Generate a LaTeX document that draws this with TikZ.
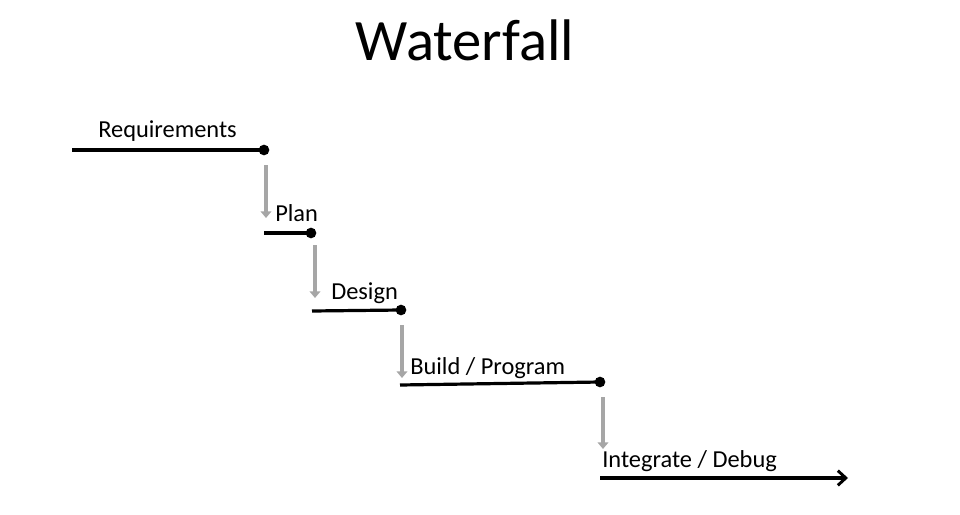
\documentclass[tikz,border=0pt]{standalone}
\usepackage{fontspec}
\setmainfont{Carlito}
\usetikzlibrary{arrows.meta}
\begin{document}
\begin{tikzpicture}[x=0.75pt,y=-0.75pt,
  stage/.style={line width=2.4pt,black},
  enddot/.style={circle,fill=black,inner sep=0pt,minimum size=8pt},
  drop/.style={line width=3pt,color=black!35,-{Triangle[width=8pt,length=5pt]}},
  lbl/.style={font=\fontsize{18.3}{21}\selectfont,inner sep=0pt,anchor=base west}]
\useasboundingbox[fill=white] (0,0) rectangle (960,514);
\node[font=\fontsize{44}{50}\selectfont,inner sep=0pt,anchor=base] (title) at (465,60) {Waterfall};
% Requirements
\coordinate (r0) at (72,150);
\node[enddot] (r1) at (264,150) {};
\draw[stage] (r0) -- (r1.center);
\node[lbl] (rl) at (98,137) {Requirements};
% Plan
\coordinate (p0) at (264,233);
\node[enddot] (p1) at (311,233) {};
\draw[stage] (p0) -- (p1.center);
\node[lbl] (pl) at (275,221) {Plan};
% Design
\coordinate (d0) at (312,311);
\node[enddot] (d1) at (401,310) {};
\draw[stage] (d0) -- (d1.center);
\node[lbl] (dl) at (331,299) {Design};
% Build
\coordinate (b0) at (400,385);
\node[enddot] (b1) at (600,382) {};
\draw[stage] (b0) -- (b1.center);
\node[lbl] (bl) at (410,374) {Build / Program};
% Integrate
\coordinate (i0) at (600,478);
\coordinate (i1) at (848,478);
\draw[stage,-{Straight Barb[length=6pt,width=11pt,line width=2.2pt]}] (i0) -- (i1);
\node[lbl] (il) at (602,467) {Integrate / Debug};
% drops
\coordinate (a1s) at (266,165); \coordinate (a1e) at (266,218);
\coordinate (a2s) at (315,245); \coordinate (a2e) at (315,298);
\coordinate (a3s) at (402,325); \coordinate (a3e) at (402,378);
\coordinate (a4s) at (603,397); \coordinate (a4e) at (603,449);
\draw[drop] (a1s) -- (a1e);
\draw[drop] (a2s) -- (a2e);
\draw[drop] (a3s) -- (a3e);
\draw[drop] (a4s) -- (a4e);
\end{tikzpicture}
\end{document}
